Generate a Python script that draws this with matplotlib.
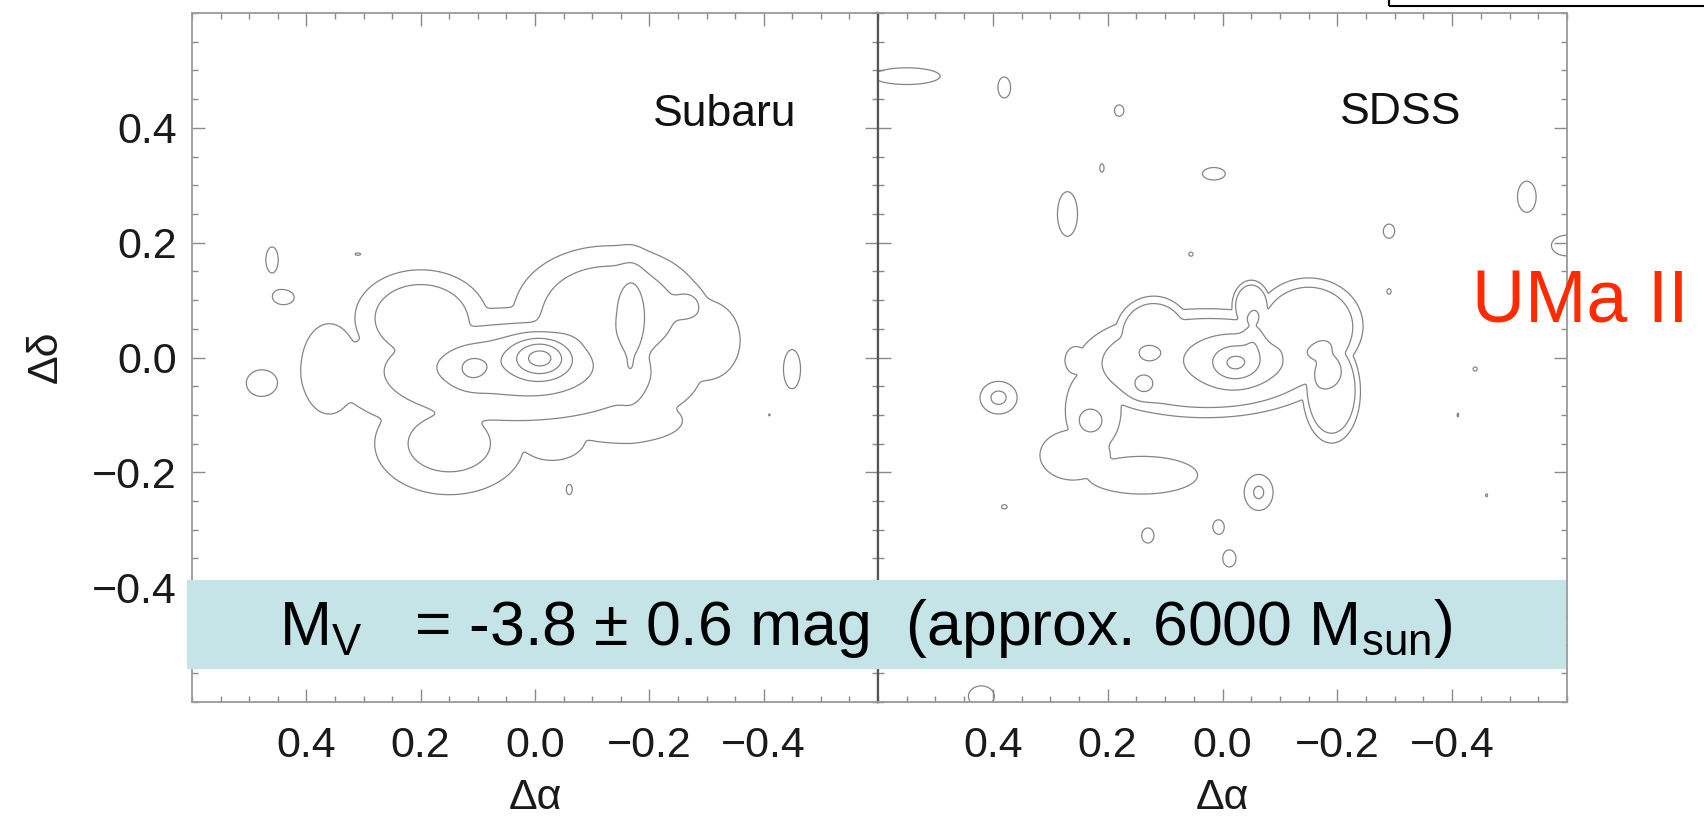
import numpy as np
import matplotlib
matplotlib.use("Agg")
import matplotlib.pyplot as plt
from matplotlib.ticker import MultipleLocator, FixedLocator, FuncFormatter
from matplotlib.patches import Rectangle

plt.rcParams['font.family'] = ['Liberation Sans', 'DejaVu Sans']
plt.rcParams['mathtext.fontset'] = 'custom'
plt.rcParams['mathtext.rm'] = 'Liberation Sans'

# ---------------- data ----------------
# Star-density model.  Each row: (x, y, sigma_x, sigma_y, amplitude)
# "base" rows are flat-topped plateaus (combined as a union), "peak" rows are added on top.
SUBARU_BASE = [
    (0.03, -0.03, 0.25, 0.09, 2.8),
    (0.20, 0.07, 0.09, 0.065, 2.8),
    (-0.13, 0.08, 0.13, 0.09, 2.8),
    (0.15, -0.15, 0.11, 0.075, 2.3),
    (-0.30, 0.03, 0.06, 0.07, 1.6),
    (0.36, -0.02, 0.05, 0.08, 1.6),
    (-0.15, -0.11, 0.11, 0.04, 1.6),
    (-0.03, -0.14, 0.06, 0.04, 1.6),
]
SUBARU_PEAK = [
    (0.05, -0.005, 0.12, 0.04, 0.8),
    (-0.17, 0.045, 0.015, 0.075, 1.0),
    (0.11, -0.02, 0.02, 0.018, 1.0),
    (-0.01, 0.0, 0.035, 0.025, 3.0),
    (0.46, 0.17, 0.012, 0.025, 1.5),
    (0.44, 0.105, 0.020, 0.014, 1.5),
    (0.48, -0.045, 0.025, 0.022, 1.5),
    (-0.45, -0.02, 0.015, 0.035, 1.5),
    (-0.06, -0.23, 0.007, 0.012, 1.3),
    (-0.27, 0.09, 0.015, 0.015, 1.4),
    (0.31, 0.18, 0.010, 0.004, 1.1),
    (-0.41, -0.10, 0.003, 0.003, 1.05),
]
SDSS_BASE = [
    (0.03, -0.01, 0.20, 0.085, 2.6),
    (0.12, 0.04, 0.06, 0.06, 2.6),
    (-0.15, 0.055, 0.085, 0.075, 2.6),
    (-0.19, -0.06, 0.045, 0.08, 2.6),
    (-0.05, 0.09, 0.03, 0.04, 2.6),
    (0.225, -0.09, 0.05, 0.075, 1.5),
    (0.26, -0.17, 0.06, 0.045, 1.5),
    (0.14, -0.205, 0.10, 0.034, 1.5),
    (0.255, -0.005, 0.02, 0.025, 1.5),
]
SDSS_PEAK = [
    (-0.025, -0.005, 0.068, 0.033, 1.0),
    (-0.055, 0.045, 0.012, 0.030, 0.8),
    (-0.18, -0.013, 0.025, 0.034, 0.8),
    (-0.022, -0.01, 0.027, 0.022, 1.65),
    (0.13, 0.007, 0.013, 0.010, 0.6),
    (0.14, -0.05, 0.017, 0.017, 0.8),
    (0.23, -0.11, 0.017, 0.017, 1.0),
    (0.20, -0.17, 0.004, 0.010, 0.6),
    (0.55, 0.49, 0.060, 0.015, 1.6),
    (0.38, 0.47, 0.012, 0.020, 1.5),
    (0.18, 0.43, 0.010, 0.012, 1.4),
    (0.21, 0.33, 0.006, 0.012, 1.2),
    (0.015, 0.32, 0.022, 0.012, 1.5),
    (0.27, 0.25, 0.018, 0.040, 1.6),
    (0.055, 0.18, 0.006, 0.006, 1.2),
    (-0.29, 0.22, 0.012, 0.015, 1.4),
    (-0.29, 0.115, 0.006, 0.008, 1.2),
    (-0.43, 0.145, 0.002, 0.003, 1.05),
    (-0.53, 0.28, 0.018, 0.030, 1.5),
    (-0.60, 0.195, 0.030, 0.020, 1.5),
    (-0.44, -0.02, 0.006, 0.006, 1.2),
    (-0.41, -0.10, 0.003, 0.008, 1.1),
    (0.39, -0.07, 0.025, 0.022, 2.3),
    (-0.063, -0.235, 0.020, 0.025, 2.2),
    (0.38, -0.26, 0.008, 0.006, 1.2),
    (0.13, -0.31, 0.013, 0.016, 1.4),
    (0.007, -0.295, 0.012, 0.015, 1.4),
    (-0.012, -0.35, 0.014, 0.018, 1.4),
    (-0.46, -0.24, 0.004, 0.006, 1.1),
    (0.42, -0.59, 0.025, 0.020, 1.5),
]
SUBARU_SHARPNESS = 1.5
SDSS_SHARPNESS = 3.0

CONTOUR_LEVELS = [1, 2, 3, 4, 5, 6]
TICK_VALUES = [0.4, 0.2, 0.0, -0.2, -0.4]
PANEL_LABELS = ['Subaru', 'SDSS']
TITLE_TEXT = 'UMa II'
BOX_TEXT = r'M$_\mathregular{V}$   = -3.8 ± 0.6 mag  (approx. 6000 M$_\mathregular{sun}$)'

# ---------------- figure ----------------
W, H = 1704, 816
fig = plt.figure(figsize=(W / 100, H / 100), dpi=100)

def fx(px):
    return px / W

def fy(py):
    return 1 - py / H

grid = np.linspace(-0.6, 0.6, 901)
GX, GY = np.meshgrid(grid, grid)

def density(base, peaks, sharp, k=12):
    union = np.zeros_like(GX)
    for x0, y0, sx, sy, a in base:
        q2 = ((GX - x0) / sx) ** 2 + ((GY - y0) / sy) ** 2
        union += (a * np.exp(-0.5 * q2 ** sharp)) ** k
    Z = union ** (1.0 / k)
    for x0, y0, sx, sy, a in peaks:
        Z += a * np.exp(-0.5 * (((GX - x0) / sx) ** 2 + ((GY - y0) / sy) ** 2))
    return Z

def fmt(v, pos):
    s = f'{v:.1f}'
    if s == '-0.0':
        s = '0.0'
    return s.replace('-', '\u2212')

axL = fig.add_axes([fx(192), fy(702), fx(686), (702 - 13) / H])
axR = fig.add_axes([fx(878), fy(702), fx(689), (702 - 13) / H])

models = [(SUBARU_BASE, SUBARU_PEAK, SUBARU_SHARPNESS),
          (SDSS_BASE, SDSS_PEAK, SDSS_SHARPNESS)]

for ax, m in zip([axL, axR], models):
    Z = density(*m)
    ax.contour(GX, GY, Z, levels=CONTOUR_LEVELS, colors='#858585', linewidths=0.9)
    ax.set_xlim(0.6, -0.6)
    ax.set_ylim(-0.6, 0.6)
    ax.xaxis.set_major_locator(FixedLocator(TICK_VALUES))
    ax.yaxis.set_major_locator(FixedLocator(TICK_VALUES))
    ax.xaxis.set_minor_locator(MultipleLocator(0.05))
    ax.yaxis.set_minor_locator(MultipleLocator(0.05))
    ax.xaxis.set_major_formatter(FuncFormatter(fmt))
    ax.yaxis.set_major_formatter(FuncFormatter(fmt))
    ax.tick_params(which='both', direction='in', top=True, right=True,
                   color='#8a8a8a', width=1.0)
    ax.tick_params(which='major', length=9.5, labelsize=31, labelcolor='#1a1a1a')
    ax.tick_params(which='minor', length=4.3)
    ax.tick_params(axis='x', which='major', pad=17)
    ax.tick_params(axis='y', which='major', pad=11)
    for sp in ax.spines.values():
        sp.set_color('#9a9a9a')
        sp.set_linewidth(1.3)

axL.spines['right'].set_color('#555555')
axL.spines['right'].set_linewidth(1.6)
axR.spines['left'].set_color('#555555')
axR.spines['left'].set_linewidth(1.6)
axR.tick_params(axis='y', labelleft=False)

# panel labels
fig.text(fx(725), fy(114), PANEL_LABELS[0], fontsize=32, ha='center', va='center', color='#111111')
fig.text(fx(1401), fy(112), PANEL_LABELS[1], fontsize=32, ha='center', va='center', color='#111111')

# axis labels
fig.text(fx(535), fy(798), '\u0394\u03b1', fontsize=31, ha='center', va='center', color='#1a1a1a')
fig.text(fx(1222), fy(798), '\u0394\u03b1', fontsize=31, ha='center', va='center', color='#1a1a1a')
fig.text(fx(46), fy(357), '\u0394\u03b4', fontsize=31, ha='center', va='center',
         rotation=90, color='#1a1a1a')

# teal annotation box
fig.add_artist(Rectangle((fx(187), fy(669)), fx(1566 - 187), (669 - 580) / H,
                         transform=fig.transFigure, facecolor='#c5e4e8',
                         edgecolor='none', zorder=5))
fig.text(fx(279), fy(645), BOX_TEXT, fontsize=45, ha='left', va='baseline',
         color='black', zorder=6)

# red title
fig.text(fx(1472), fy(323), TITLE_TEXT, fontsize=53, ha='left', va='baseline',
         color='#ff2a00', zorder=6)

# partial frame at top right
fig.add_artist(Rectangle((fx(1389), fy(6)), fx(400), 30 / H,
                         transform=fig.transFigure, facecolor='none',
                         edgecolor='black', linewidth=1.5, zorder=6))

fig.savefig('out.png', dpi=100)
